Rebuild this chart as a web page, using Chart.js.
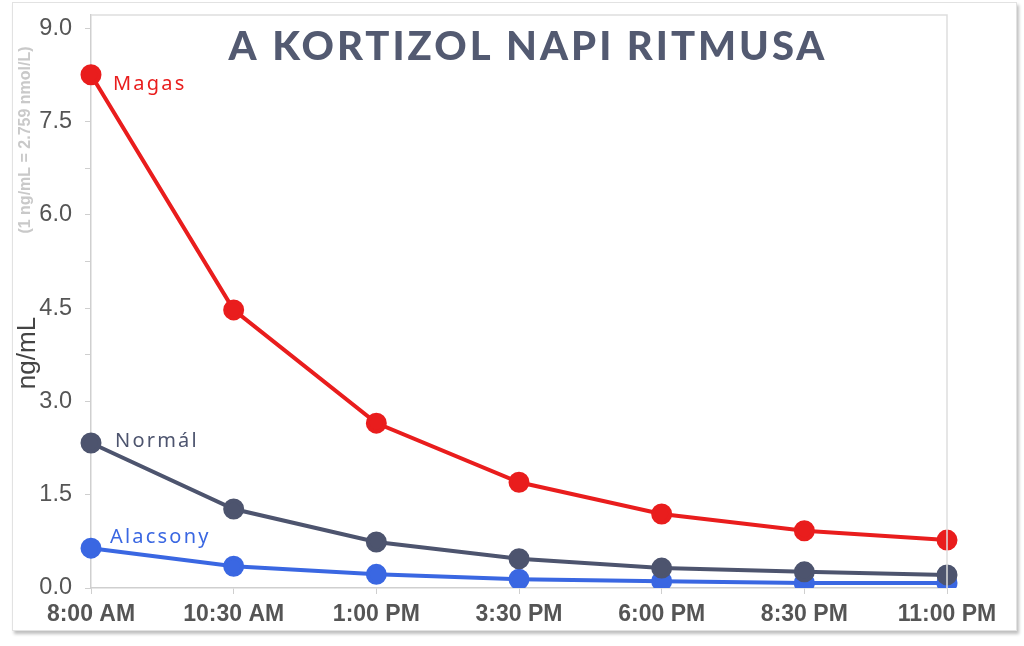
<!DOCTYPE html>
<html>
<head>
<meta charset="utf-8">
<script src="https://cdn.jsdelivr.net/npm/chart.js@4.4.0/dist/chart.umd.min.js"></script>
<style>
  html, body { margin: 0; padding: 0; background: #fff; }
  #wrap { position: relative; width: 1024px; height: 646px; }
  #frame {
    position: absolute; left: 12px; top: 2px; width: 1003px; height: 627px;
    border: 1px solid #e2e2e2; box-shadow: 2px 3px 3px rgba(0,0,0,0.25);
    background: #fff;
  }
  canvas { position: absolute; left: 0; top: 0; }
</style>
</head>
<body>
<div id="wrap">
  <div id="frame"></div>
  <canvas id="c" width="1024" height="646"></canvas>
</div>
<script>
// idopontok (x tengely)
const times = ["8:00 AM", "10:30 AM", "1:00 PM", "3:30 PM", "6:00 PM", "8:30 PM", "11:00 PM"];

// ertekek ng/mL-ben, a kepről leolvasva
const magas    = [8.25, 4.47, 2.65, 1.70, 1.19, 0.92, 0.77];
const normal   = [2.33, 1.27, 0.74, 0.47, 0.32, 0.26, 0.21];
const alacsony = [0.64, 0.35, 0.22, 0.14, 0.11, 0.08, 0.08];

const seriesNames = ["Magas", "Normál", "Alacsony"];
const yTicks = [0, 0.75, 1.5, 2.25, 3.0, 3.75, 4.5, 5.25, 6.0, 6.75, 7.5, 8.25, 9.0];

const RED = "#e91d1d";
const SLATE = "#4d546e";
const BLUE = "#3a67e2";

// cimkek a vonalak elejen + cim + tengelyfeliratok
const extraText = {
    id: "extraText",
    afterDatasetsDraw(chart) {
        const ctx = chart.ctx;
        const offs = [[22, 10], [24, -2], [19, -11]];
        const cols = [RED, SLATE, BLUE];
        ctx.save();
        ctx.textBaseline = "middle";
        ctx.textAlign = "left";
        ctx.font = "20px 'Noto Sans'";
        ctx.letterSpacing = "2.2px";
        chart.data.datasets.forEach((ds, i) => {
            const p = chart.getDatasetMeta(i).data[0];
            ctx.fillStyle = cols[i];
            ctx.fillText(seriesNames[i], p.x + offs[i][0], p.y + offs[i][1]);
        });
        ctx.restore();
    },
    afterDraw(chart) {
        const ctx = chart.ctx;
        const { left, right, top, bottom } = chart.chartArea;
        ctx.save();
        // a rajzterulet kerete
        ctx.strokeStyle = "#dedede";
        ctx.lineWidth = 1.5;
        ctx.beginPath();
        ctx.moveTo(left, top);
        ctx.lineTo(right, top);
        ctx.lineTo(right, bottom);
        ctx.stroke();

        // cim
        ctx.fillStyle = "#535a71";
        ctx.font = "900 40px Lato";
        ctx.letterSpacing = "3px";
        ctx.textAlign = "center";
        ctx.textBaseline = "middle";
        ctx.fillText("A KORTIZOL NAPI RITMUSA", 528, 47);

        // y tengely cim
        ctx.letterSpacing = "0px";
        ctx.translate(28, 353);
        ctx.rotate(-Math.PI / 2);
        ctx.fillStyle = "#444";
        ctx.font = "26px Arial";
        ctx.fillText("ng/mL", 0, 0);
        ctx.rotate(Math.PI / 2);
        ctx.translate(-28, -353);

        ctx.translate(26, 140);
        ctx.rotate(-Math.PI / 2);
        ctx.fillStyle = "#c9c9c9";
        ctx.font = "bold 16px Arial";
        ctx.fillText("(1 ng/mL = 2.759 nmol/L)", 0, 0);
        ctx.restore();
    }
};

const mkSet = (data, color) => ({
    data: data,
    borderColor: color,
    backgroundColor: color,
    pointBackgroundColor: color,
    pointBorderColor: color,
    borderWidth: 4,
    pointRadius: 8.5,
    pointHoverRadius: 8.5,
    tension: 0
});

new Chart(document.getElementById("c"), {
    type: "line",
    plugins: [extraText],
    data: {
        labels: times,
        datasets: [
            mkSet(magas, RED),
            mkSet(normal, SLATE),
            mkSet(alacsony, BLUE)
        ]
    },
    options: {
        responsive: false,
        animation: false,
        layout: { padding: { left: 0, top: 15, right: 77, bottom: 0 } },
        plugins: {
            legend: { display: false },
            tooltip: { enabled: false }
        },
        scales: {
            x: {
                offset: false,
                grid: { drawOnChartArea: false, color: "#cfcfcf", tickLength: 6 },
                border: { color: "#cfcfcf", width: 1.5 },
                ticks: {
                    color: "#555",
                    font: { family: "Arial", size: 23, weight: "bold" },
                    padding: 7,
                    maxRotation: 0
                },
                afterFit(scale) { scale.height = 58; }
            },
            y: {
                min: 0,
                max: 9.21,
                afterBuildTicks(scale) {
                    scale.ticks = yTicks.map(v => ({ value: v }));
                },
                grid: { drawOnChartArea: false, color: "#cfcfcf", tickLength: 6 },
                border: { color: "#cfcfcf", width: 1.5 },
                ticks: {
                    autoSkip: false,
                    color: "#555",
                    font: { family: "Arial", size: 23.5 },
                    padding: 13,
                    callback(v) {
                        const r = v / 1.5;
                        return Math.abs(r - Math.round(r)) < 1e-6 ? v.toFixed(1) : "";
                    }
                },
                afterFit(scale) {
                    scale.width = 91;
                    scale.paddingTop = 0;
                    scale.paddingBottom = 0;
                }
            }
        }
    }
});
</script>
</body>
</html>
